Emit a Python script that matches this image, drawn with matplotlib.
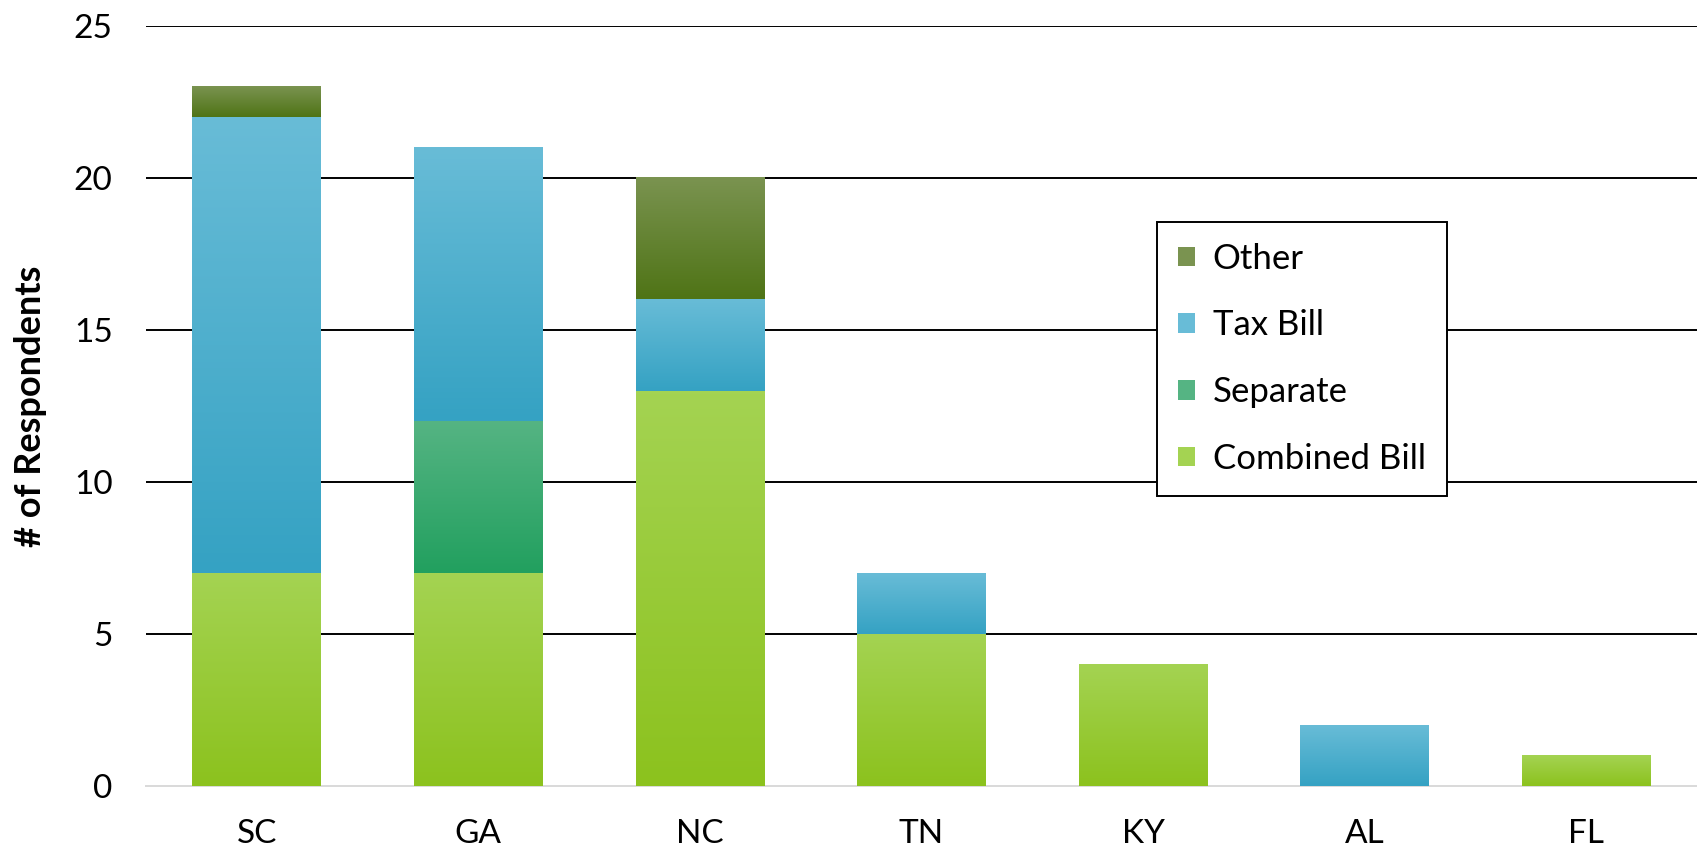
import numpy as np
import matplotlib
matplotlib.use("Agg")
import matplotlib.pyplot as plt
from matplotlib.colors import LinearSegmentedColormap

states = ["SC", "GA", "NC", "TN", "KY", "AL", "FL"]
combined = [7, 7, 13, 5, 4, 0, 1]
separate = [0, 5, 0, 0, 0, 0, 0]
tax_bill = [15, 9, 3, 2, 0, 2, 0]
other = [1, 0, 4, 0, 0, 0, 0]

series = [
    ("Combined Bill", combined, "#a4d352", "#8cc21e"),
    ("Separate", separate, "#55b483", "#22a05f"),
    ("Tax Bill", tax_bill, "#68bcd7", "#35a2c3"),
    ("Other", other, "#7a9350", "#4f7416"),
]

plt.rcParams["font.family"] = ["Lato", "DejaVu Sans"]

fig = plt.figure(figsize=(16.97, 8.59), dpi=100)
ax = fig.add_axes([0.086, 0.085, 0.914, 0.885])

x = np.arange(len(states))
bottom = np.zeros(len(states))
handles = []
for name, vals, top_c, bot_c in series:
    vals = np.array(vals, dtype=float)
    bars = ax.bar(x, vals, width=0.58, bottom=bottom, color=top_c, label=name,
                  zorder=2, edgecolor="none")
    cmap = LinearSegmentedColormap.from_list(name, [bot_c, top_c])
    grad = np.linspace(0, 1, 100).reshape(-1, 1)
    for p in bars.patches:
        if p.get_height() <= 0:
            continue
        x0, y0 = p.get_x(), p.get_y()
        ax.imshow(grad, cmap=cmap, origin="lower", aspect="auto",
                  extent=(x0, x0 + p.get_width(), y0, y0 + p.get_height()),
                  zorder=3, interpolation="bilinear")
    handles.append(bars)
    bottom += vals

ax.set_xlim(-0.5, len(states) - 0.5)
ax.set_ylim(0, 25)
ax.set_yticks(range(0, 26, 5))
ax.set_xticks(x)
ax.set_xticklabels(states)
ax.tick_params(axis="both", length=0, labelsize=24)
ax.tick_params(axis="x", pad=24)
ax.tick_params(axis="y", pad=24)

ax.set_axisbelow(True)
ax.yaxis.grid(True, color="black", linewidth=1.4)
ax.get_ygridlines()[0].set_visible(False)
for s in ["top", "right", "left"]:
    ax.spines[s].set_visible(False)
ax.spines["bottom"].set_color("#d9d9d9")
ax.spines["bottom"].set_linewidth(1.4)

ax.set_ylabel("# of Respondents", fontsize=26, fontweight="bold")
ax.yaxis.set_label_coords(-0.064, 0.5)

leg = ax.legend(handles[::-1], [s[0] for s in series][::-1],
                loc="upper left", bbox_to_anchor=(0.652, 0.742),
                fontsize=25, frameon=True, fancybox=False, framealpha=1,
                edgecolor="black", handlelength=0.5, handleheight=0.5,
                handletextpad=0.5, labelspacing=1.0, borderpad=0.6,
                borderaxespad=0)
leg.get_frame().set_linewidth(1.4)

fig.savefig("out.png", dpi=100)
